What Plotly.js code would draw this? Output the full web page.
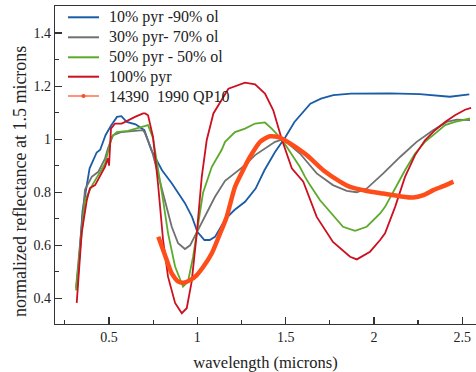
<!DOCTYPE html>
<html>
<head>
<meta charset="utf-8">
<script src="https://cdn.plot.ly/plotly-3.0.1.min.js"></script>
<style>html,body{margin:0;padding:0;background:#fff;}#chart{width:476px;height:372px;}</style>
</head>
<body>
<div id="chart"></div>
<script>
// 10% pyr - 90% ol
var blueX = [0.32, 0.35, 0.39, 0.43, 0.45, 0.48, 0.51, 0.545, 0.57, 0.60, 0.65, 0.70, 0.74, 0.80, 0.855, 0.89, 0.93, 0.97, 1.00, 1.04, 1.07, 1.10, 1.16, 1.21, 1.27, 1.33, 1.38, 1.44, 1.50, 1.55, 1.61, 1.64, 1.70, 1.77, 1.87, 1.96, 2.09, 2.26, 2.43, 2.54];
var blueY = [0.44, 0.73, 0.89, 0.95, 0.96, 1.015, 1.05, 1.084, 1.087, 1.065, 1.056, 1.034, 0.958, 0.883, 0.834, 0.80, 0.759, 0.707, 0.651, 0.62, 0.62, 0.632, 0.70, 0.733, 0.764, 0.814, 0.883, 0.952, 1.009, 1.065, 1.109, 1.134, 1.153, 1.166, 1.172, 1.173, 1.173, 1.17, 1.16, 1.169];

// 30% pyr - 70% ol
var grayX = [0.313, 0.364, 0.402, 0.439, 0.477, 0.494, 0.523, 0.572, 0.647, 0.693, 0.704, 0.742, 0.777, 0.817, 0.855, 0.891, 0.930, 0.959, 0.997, 1.044, 1.100, 1.157, 1.213, 1.270, 1.327, 1.383, 1.440, 1.487, 1.581, 1.676, 1.768, 1.846, 1.903, 1.959, 2.053, 2.148, 2.242, 2.335, 2.412, 2.469, 2.544];
var grayY = [0.44, 0.81, 0.858, 0.877, 0.927, 0.966, 1.015, 1.027, 1.031, 1.034, 1.022, 0.958, 0.87, 0.77, 0.67, 0.608, 0.586, 0.60, 0.65, 0.714, 0.783, 0.843, 0.871, 0.902, 0.94, 0.965, 0.99, 1.0, 0.946, 0.871, 0.827, 0.805, 0.80, 0.814, 0.871, 0.933, 0.99, 1.034, 1.065, 1.074, 1.072];

// 50% pyr - 50% ol
var greenX = [0.313, 0.364, 0.402, 0.439, 0.477, 0.515, 0.544, 0.608, 0.693, 0.721, 0.749, 0.777, 0.806, 0.834, 0.874, 0.919, 0.947, 0.976, 1.004, 1.032, 1.082, 1.138, 1.157, 1.213, 1.270, 1.327, 1.383, 1.421, 1.478, 1.553, 1.581, 1.610, 1.638, 1.695, 1.768, 1.825, 1.893, 1.959, 2.035, 2.063, 2.120, 2.176, 2.233, 2.289, 2.346, 2.403, 2.459, 2.544];
var greenY = [0.43, 0.77, 0.823, 0.864, 0.908, 1.009, 1.027, 1.031, 1.049, 1.053, 1.004, 0.896, 0.77, 0.646, 0.52, 0.444, 0.463, 0.557, 0.683, 0.797, 0.896, 0.96, 0.99, 1.027, 1.04, 1.059, 1.063, 1.04, 1.0, 0.927, 0.895, 0.858, 0.827, 0.77, 0.714, 0.67, 0.655, 0.67, 0.72, 0.745, 0.814, 0.883, 0.946, 0.99, 1.021, 1.053, 1.065, 1.078];

// 100% pyr
var redX = [0.317, 0.345, 0.374, 0.392, 0.421, 0.449, 0.477, 0.494, 0.50, 0.511, 0.534, 0.572, 0.608, 0.647, 0.693, 0.704, 0.721, 0.749, 0.777, 0.806, 0.834, 0.874, 0.912, 0.940, 0.968, 0.997, 1.025, 1.053, 1.091, 1.129, 1.176, 1.270, 1.327, 1.383, 1.430, 1.478, 1.535, 1.600, 1.676, 1.768, 1.865, 1.903, 1.978, 2.035, 2.063, 2.120, 2.176, 2.233, 2.289, 2.346, 2.403, 2.459, 2.516, 2.550];
var redY = [0.383, 0.646, 0.77, 0.816, 0.827, 0.864, 0.896, 0.928, 0.90, 1.04, 1.059, 1.059, 1.072, 1.084, 1.097, 1.097, 1.09, 1.009, 0.834, 0.62, 0.482, 0.383, 0.344, 0.363, 0.463, 0.645, 0.858, 0.996, 1.097, 1.14, 1.19, 1.213, 1.207, 1.172, 1.109, 1.0, 0.89, 0.84, 0.707, 0.613, 0.557, 0.547, 0.576, 0.62, 0.645, 0.745, 0.858, 0.94, 0.996, 1.034, 1.065, 1.09, 1.111, 1.118];

// 14390 1990 QP10
var orangeX = [0.779, 0.817, 0.855, 0.892, 0.921, 0.959, 0.997, 1.034, 1.082, 1.129, 1.166, 1.213, 1.260, 1.298, 1.355, 1.412, 1.468, 1.525, 1.619, 1.713, 1.808, 1.865, 1.959, 2.053, 2.148, 2.223, 2.280, 2.336, 2.393, 2.450];
var orangeY = [0.632, 0.563, 0.494, 0.463, 0.459, 0.469, 0.488, 0.519, 0.57, 0.645, 0.707, 0.82, 0.885, 0.933, 0.99, 1.011, 1.006, 0.984, 0.94, 0.883, 0.84, 0.82, 0.805, 0.795, 0.785, 0.78, 0.789, 0.808, 0.823, 0.84];

var names = ['10% pyr -90% ol', '30% pyr- 70% ol', '50% pyr - 50% ol', '100% pyr', '14390  1990 QP10'];
var colors = ['#1a5ca6', '#707070', '#5caa2c', '#cc1020', '#ff4d1a'];

var FONT = 'Liberation Serif, Times New Roman, serif';
var W = 476, H = 372, ML = 55, MR = 0, MT = 6, MB = 48;
var PW = W - ML - MR, PH = H - MT - MB;
function px(xp) { return (xp - ML) / PW; }
function py(yp) { return (H - MB - yp) / PH; }

var traces = [
  {x: blueX, y: blueY, name: names[0], mode: 'lines', line: {color: colors[0], width: 1.8}},
  {x: grayX, y: grayY, name: names[1], mode: 'lines', line: {color: colors[1], width: 1.8}},
  {x: greenX, y: greenY, name: names[2], mode: 'lines', line: {color: colors[2], width: 1.8}},
  {x: redX, y: redY, name: names[3], mode: 'lines', line: {color: colors[3], width: 1.8}},
  {x: orangeX, y: orangeY, name: names[4], mode: 'lines',
   line: {color: colors[4], width: 4.5, shape: 'spline', smoothing: 0.6}}
];

// hand-placed legend (matches the reference's compact spacing)
var legRows = [17.3, 37.3, 57.3, 76.7, 96];
var shapes = [], annotations = [];
for (var i = 0; i < names.length; i++) {
  var yp = legRows[i];
  shapes.push({type: 'line', xref: 'paper', yref: 'paper', x0: px(68), x1: px(99), y0: py(yp), y1: py(yp),
               line: {color: colors[i], width: i === 4 ? 1.2 : 2}});
  annotations.push({xref: 'paper', yref: 'paper', x: px(107), y: py(yp), xanchor: 'left', yanchor: 'middle',
                    text: names[i], showarrow: false, font: {family: FONT, size: 16, color: '#222'}});
}
shapes.push({type: 'circle', xref: 'paper', yref: 'paper', x0: px(81.5), x1: px(85.5), y0: py(98), y1: py(94),
             fillcolor: colors[4], line: {color: colors[4], width: 0}});
// y-axis title, placed like the reference
annotations.push({xref: 'paper', yref: 'paper', x: px(20), y: py(182), xanchor: 'center', yanchor: 'middle',
                  textangle: -90, text: 'normalized reflectance at 1.5 microns', showarrow: false,
                  font: {family: FONT, size: 18, color: '#222'}});

var layout = {
  width: W, height: H,
  margin: {l: ML, r: MR, t: MT, b: MB},
  paper_bgcolor: '#fff', plot_bgcolor: '#fff',
  font: {family: FONT, color: '#222', size: 14},
  showlegend: false,
  shapes: shapes,
  annotations: annotations,
  xaxis: {
    range: [0.194, 2.578], tickmode: 'linear', tick0: 0.5, dtick: 0.5,
    ticks: 'inside', ticklen: 7, tickwidth: 1.2, tickcolor: '#333',
    minor: {ticks: 'inside', dtick: 0.25, tick0: 0.25, ticklen: 4, tickwidth: 1.2, tickcolor: '#333'},
    showline: true, linecolor: '#333', linewidth: 1.3, mirror: true,
    showgrid: false, zeroline: false,
    tickfont: {family: FONT, size: 14, color: '#222'},
    title: {text: 'wavelength (microns)', font: {family: FONT, size: 16.5, color: '#222'}, standoff: 13}
  },
  yaxis: {
    range: [0.3035, 1.502], tickmode: 'linear', tick0: 0.4, dtick: 0.2,
    ticks: 'inside', ticklen: 7, tickwidth: 1.2, tickcolor: '#333',
    minor: {ticks: 'inside', dtick: 0.1, tick0: 0.3, ticklen: 4, tickwidth: 1.2, tickcolor: '#333'},
    showline: true, linecolor: '#333', linewidth: 1.3,
    showgrid: false, zeroline: false,
    tickfont: {family: FONT, size: 14, color: '#222'}
  }
};

Plotly.newPlot('chart', traces, layout, {staticPlot: true, displayModeBar: false});
</script>
</body>
</html>
